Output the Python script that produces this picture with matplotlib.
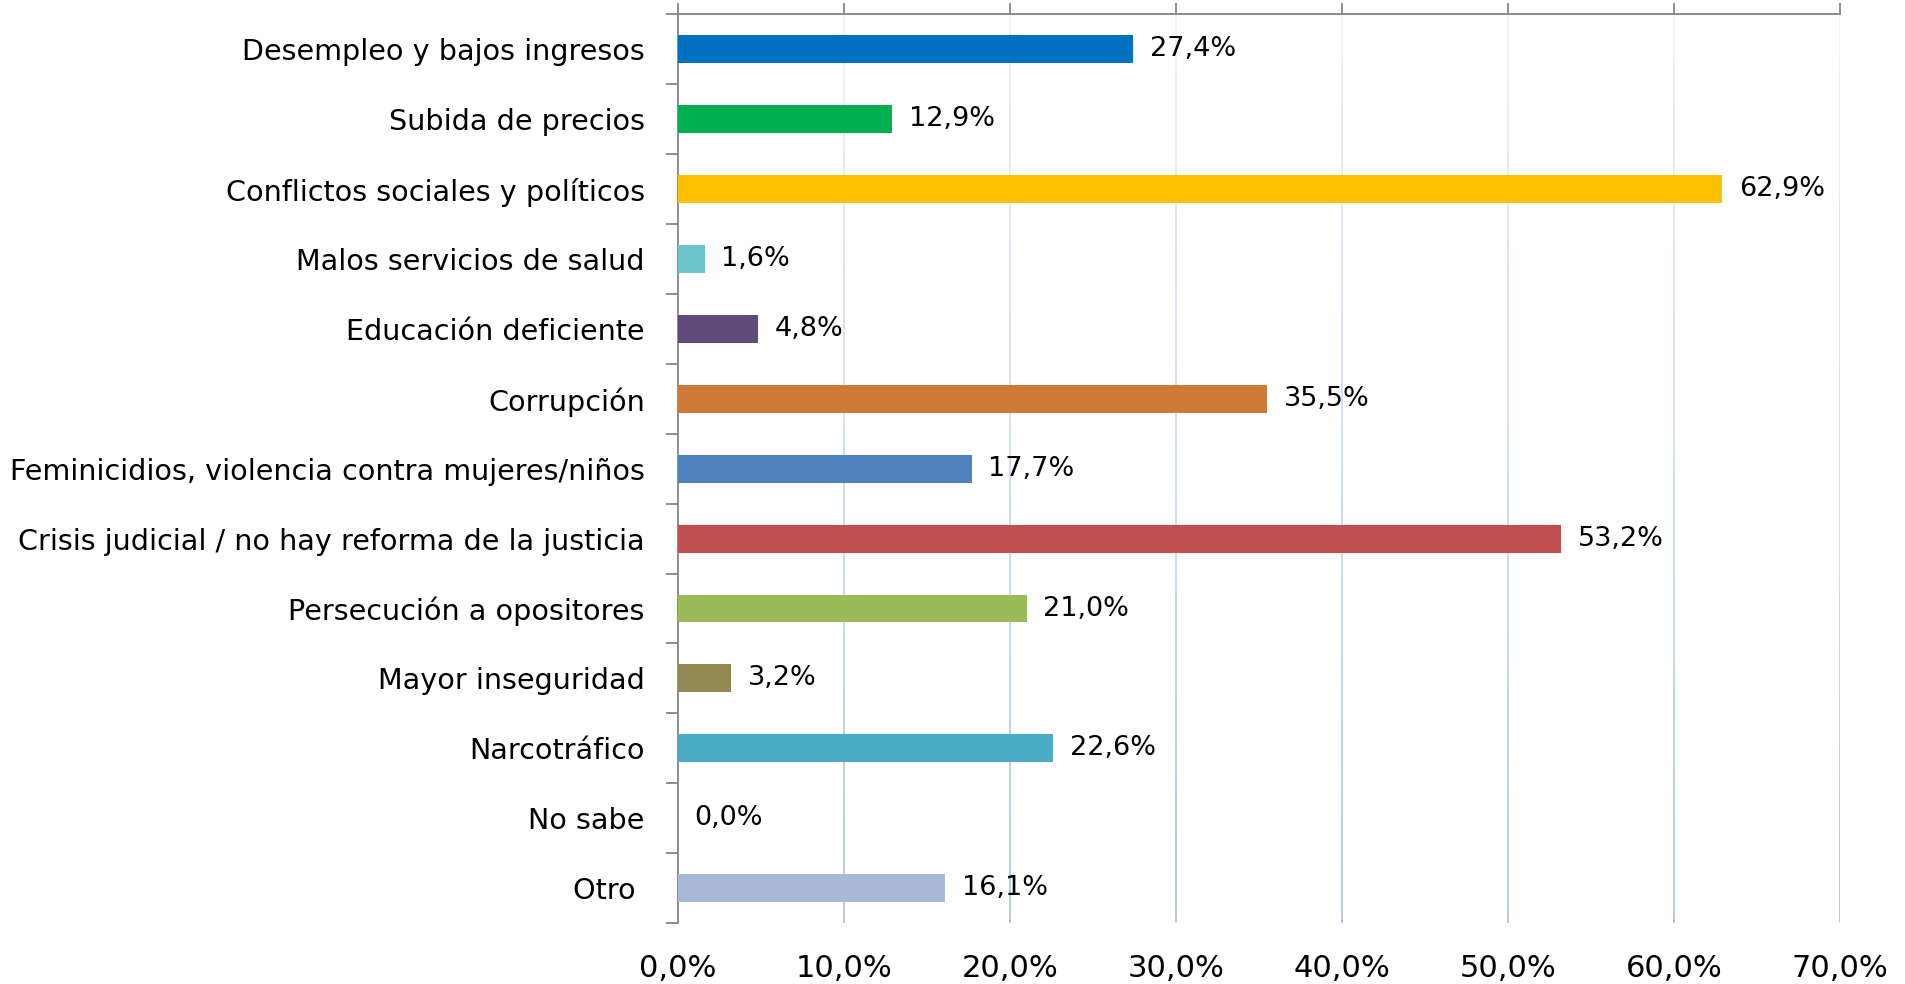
import numpy as np
import matplotlib
matplotlib.use("Agg")
import matplotlib.pyplot as plt
from matplotlib.collections import LineCollection
from matplotlib.colors import to_rgb

# Data
categorias = [
    "Desempleo y bajos ingresos",
    "Subida de precios",
    "Conflictos sociales y políticos",
    "Malos servicios de salud",
    "Educación deficiente",
    "Corrupción",
    "Feminicidios, violencia contra mujeres/niños",
    "Crisis judicial / no hay reforma de la justicia",
    "Persecución a opositores",
    "Mayor inseguridad",
    "Narcotráfico",
    "No sabe",
    "Otro ",
]
valores = [27.4, 12.9, 62.9, 1.6, 4.8, 35.5, 17.7, 53.2, 21.0, 3.2, 22.6, 0.0, 16.1]
colores = ["#0070C0", "#00B050", "#FFC000", "#6AC6CC", "#604A7B", "#CF7A37",
           "#4F81BD", "#C0504D", "#9BBB59", "#948A54", "#4BACC6", "#A5B6D6",
           "#A9B9D9"]
x_ticks = [0, 10, 20, 30, 40, 50, 60, 70]

fig = plt.figure(figsize=(19.06, 9.84), dpi=100)
ax = fig.add_axes([0.3557, 0.062, 0.6097, 0.9233])

n = len(categorias)
y = np.arange(n)
ax.barh(y, valores, height=0.4, color=colores, zorder=3)

ax.set_xlim(0, 70)
ax.set_ylim(n - 0.5, -0.5)

# gridlines with a gradient, light at the top and darker at the bottom
top_c = np.array(to_rgb("#EEF2F8"))
bot_c = np.array(to_rgb("#B6CAE3"))
steps = 60
ys = np.linspace(-0.5, n - 0.5, steps + 1)
for xv in x_ticks[1:]:
    segs = [[(xv, ys[i]), (xv, ys[i + 1])] for i in range(steps)]
    t = np.linspace(0, 1, steps)[:, None]
    cols = top_c * (1 - t) + bot_c * t
    ax.add_collection(LineCollection(segs, colors=cols, linewidths=1.4, zorder=1))

# value labels
for yi, v in zip(y, valores):
    ax.annotate(f"{v:.1f}%".replace(".", ","), (v, yi), xytext=(12, 0),
                textcoords="offset points", va="center", ha="left",
                fontsize=19.5, color="black")

# y axis: labels at centers, ticks at the band edges
ax.set_yticks(y)
ax.set_yticklabels(categorias, fontsize=20.6)
ax.set_yticks(np.arange(-0.5, n), minor=True)
ax.tick_params(axis="y", which="major", length=0, pad=24)
ax.tick_params(axis="y", which="minor", length=9, width=1.3, color="#868686")

# x axis: line at top with ticks, labels at bottom
ax.set_xticks(x_ticks)
ax.set_xticklabels([f"{v},0%" for v in x_ticks], fontsize=22)
ax.tick_params(axis="x", top=True, bottom=False, labeltop=False, labelbottom=True,
               direction="out", length=8, width=1.3, color="#868686", pad=14)

for s in ["bottom", "right"]:
    ax.spines[s].set_visible(False)
for s in ["top", "left"]:
    ax.spines[s].set_color("#868686")
    ax.spines[s].set_linewidth(1.3)

fig.savefig("out.png", dpi=100)
